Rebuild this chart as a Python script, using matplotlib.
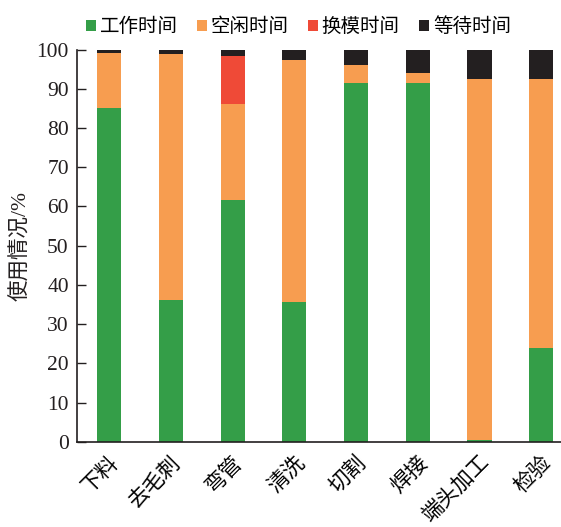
import matplotlib
matplotlib.use("Agg")
import matplotlib.pyplot as plt
import numpy as np
from matplotlib.patches import Patch

plt.rcParams['font.family'] = ['Liberation Serif', 'Noto Sans CJK SC']

categories = ['下料', '去毛刺', '弯管', '清洗', '切割', '焊接', '端头加工', '检验']
series_names = ['工作时间', '空闲时间', '换模时间', '等待时间']
work = [85.0, 36.2, 61.7, 35.7, 91.4, 91.4, 0.6, 24.0]
idle = [14.2, 62.6, 24.5, 61.6, 4.6, 2.6, 91.8, 68.4]
change = [0.0, 0.0, 12.1, 0.0, 0.0, 0.0, 0.0, 0.0]
wait = [0.8, 1.2, 1.7, 2.7, 4.0, 6.0, 7.6, 7.6]
colors = ['#349E48', '#F79D50', '#EF4A37', '#231F20']

fig = plt.figure(figsize=(5.61, 5.27), dpi=100)
ax = fig.add_axes([0.1375, 0.1615, 0.8625, 0.7445])

x = np.arange(len(categories))
bottom = np.zeros(len(categories))
for vals, col in zip([work, idle, change, wait], colors):
    ax.bar(x, vals, width=0.39, bottom=bottom, color=col, linewidth=0)
    bottom += np.array(vals)

ax.set_xlim(-0.52, 7.32)
ax.set_ylim(0, 100)
ax.set_yticks(np.arange(0, 101, 10))
ax.set_xticks(x)
ax.set_xticklabels(categories, rotation=45, ha='right', rotation_mode='anchor', fontsize=15.3)
ax.tick_params(axis='x', length=0, pad=8)
ax.tick_params(axis='y', direction='in', length=6.5, width=1, labelsize=15.5,
               colors='#231F20', pad=6)
for s in ['top', 'right']:
    ax.spines[s].set_visible(False)
for s in ['left', 'bottom']:
    ax.spines[s].set_color('#231F20')
    ax.spines[s].set_linewidth(1.2)
ax.set_ylabel('使用情况/%', fontsize=15.5, labelpad=4, color='#231F20')

handles = [Patch(facecolor=c, edgecolor='none') for c in colors]
fig.legend(handles, series_names, loc='center', bbox_to_anchor=(0.532, 0.949),
           ncol=4, frameon=False, fontsize=14, handlelength=0.5, handleheight=0.5,
           handletextpad=0.2, columnspacing=1.0, borderaxespad=0)

fig.savefig('out.png', dpi=100)
